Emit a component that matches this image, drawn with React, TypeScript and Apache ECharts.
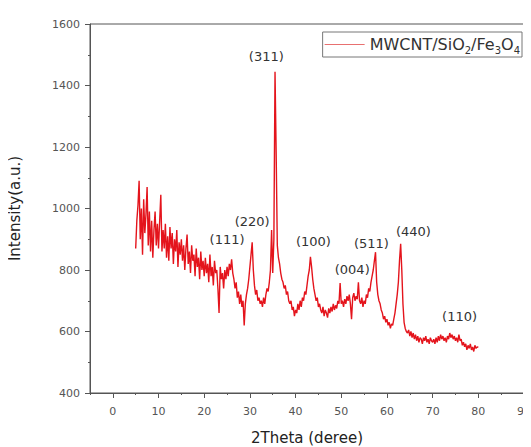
import React, { useEffect, useRef } from "react";
import * as echarts from "echarts";

// 2Theta sampling: start 5°, step 0.25°, to 80°
const thetaStart = 5;
const thetaStep = 0.25;

// Intensity (a.u.), one value per 0.25°
const intensity: number[] = [
  // 5.00 - 10.00
  870, 960, 1010, 1090, 900, 1000, 850, 1030, 920, 980, 1070, 880, 990, 860, 960, 840, 930, 990, 880, 950, 870,
  // 10.25 - 15.00
  960, 1045, 860, 930, 870, 950, 840, 910, 830, 940, 870, 920, 820, 900, 860, 930, 810, 890, 850, 900,
  // 15.25 - 20.00
  830, 880, 800, 870, 915, 820, 860, 790, 880, 830, 850, 780, 870, 810, 840, 770, 860, 800, 830, 780,
  // 20.25 - 25.00
  840, 790, 820, 760, 850, 780, 810, 750, 830, 790, 800, 740, 660, 810, 770, 790, 740, 800, 770, 810,
  // 25.25 - 30.00
  780, 820, 800, 835, 790, 770, 740, 760, 710, 730, 690, 720, 680, 700, 620, 690, 720, 740, 770, 810,
  // 30.25 - 35.00
  850, 890, 800, 750, 720, 735, 700, 710, 690, 700, 680, 710, 690, 720, 740, 730, 760, 800, 930, 790,
  // 35.25 - 40.00
  900, 1445, 1180, 880, 840, 820, 790, 770, 760, 740, 750, 720, 730, 700, 690, 700, 670, 680, 650, 670,
  // 40.25 - 45.00
  660, 690, 670, 700, 680, 710, 700, 730, 720, 750, 780, 800, 843, 810, 770, 740, 720, 700, 710, 680,
  // 45.25 - 50.00
  690, 670, 660, 680, 650, 670, 660, 645, 675, 660, 680, 665, 690, 670, 685, 675, 700, 690, 758, 690,
  // 50.25 - 55.00
  700, 680, 705, 690, 715, 700, 720, 690, 640, 710, 725, 700, 715, 705, 760, 700, 690, 710, 680, 700,
  // 55.25 - 60.00
  690, 720, 710, 740, 730, 760, 780, 800, 830, 858, 760, 720, 700, 690, 670, 660, 640, 650, 630, 640,
  // 60.25 - 65.00
  620, 630, 610, 625, 620, 640, 660, 690, 720, 760, 830, 885, 800, 690, 630, 610, 600, 595, 605, 585,
  // 65.25 - 70.00
  600, 580, 595, 575, 590, 570, 585, 565, 580, 575, 560, 580, 570, 585, 565, 575, 560, 580, 570, 565,
  // 70.25 - 75.00
  575, 560, 580, 565, 585, 570, 590, 575, 585, 570, 580, 565, 585, 575, 595, 580, 590, 575, 585, 570,
  // 75.25 - 80.00
  580, 565, 590, 570, 575, 555, 565, 550, 560, 540, 555, 545, 560, 540, 550, 535, 555, 545, 550, 548,
];

// Peak annotations (Miller indices) and where their labels sit (data coords)
const peakLabels = ["(311)", "(220)", "(111)", "(100)", "(004)", "(511)", "(440)", "(110)"];
const peakLabelX = [33.6, 30.5, 25.0, 43.9, 52.4, 56.6, 65.8, 75.9];
const peakLabelY = [1495, 959, 898, 894, 803, 885, 924, 650];

const xMajorTicks = [0, 10, 20, 30, 40, 50, 60, 70, 80, 90];

const seriesName = "MWCNT/SiO2/Fe3O4";

export default function App() {
  const ref = useRef<HTMLDivElement>(null);

  useEffect(() => {
    if (!ref.current) return;
    const chart = echarts.init(ref.current, undefined, { renderer: "svg" });
    const data = intensity.map((v, i) => [thetaStart + i * thetaStep, v]);
    const font = "DejaVu Sans";
    const axisColor = "#555";

    chart.setOption({
      animation: false,
      backgroundColor: "#fff",
      grid: {
        left: 90,
        right: 7,
        top: 24,
        bottom: 54,
        containLabel: false,
        outerBoundsMode: "none",
        show: true,
        borderColor: axisColor,
        borderWidth: 1,
        backgroundColor: "transparent",
      },
      legend: {
        right: 9,
        top: 32,
        orient: "horizontal",
        data: [seriesName],
        itemWidth: 40,
        itemHeight: 14,
        itemGap: 4,
        padding: [2, 2, 2, 2],
        borderColor: "#777",
        borderWidth: 1,
        icon: "path://M0,7L40,7L40,8L0,8Z",
        itemStyle: { color: "#e87070" },
        formatter: () => "{a|MWCNT/SiO}{s|2}{a|/Fe}{s|3}{a|O}{s|4}",
        textStyle: {
          fontFamily: font,
          rich: {
            a: { fontSize: 16, fontFamily: font, color: "#333", lineHeight: 19 },
            s: { fontSize: 10, fontFamily: font, color: "#333", lineHeight: 10, padding: [11, 0, 0, 0] },
          },
        },
      },
      xAxis: [
        {
          type: "value",
          min: -5,
          max: 90,
          position: "bottom",
          name: "2Theta (deree)",
          nameLocation: "middle",
          nameGap: 37,
          nameTextStyle: { fontFamily: font, fontSize: 15, color: "#222" },
          axisLine: { show: true, onZero: false, lineStyle: { color: axisColor, width: 1 } },
          axisTick: { show: true, length: 5, customValues: xMajorTicks, lineStyle: { color: axisColor } },
          axisLabel: {
            customValues: xMajorTicks,
            fontFamily: font,
            fontSize: 11,
            color: "#555",
            margin: 13,
          },
          splitLine: { show: false },
        },
        {
          type: "value",
          min: -5,
          max: 90,
          interval: 5,
          position: "bottom",
          axisLine: { show: false, onZero: false },
          axisTick: { show: true, length: 2, lineStyle: { color: axisColor } },
          axisLabel: { show: false },
          splitLine: { show: false },
        },
      ],
      yAxis: {
        type: "value",
        min: 400,
        max: 1600,
        interval: 200,
        name: "Intensity(a.u.)",
        nameLocation: "middle",
        nameGap: 68,
        nameTextStyle: { fontFamily: font, fontSize: 15, color: "#222" },
        axisLine: { show: true, onZero: false, lineStyle: { color: axisColor, width: 1 } },
        axisTick: { show: true, length: 5, lineStyle: { color: axisColor } },
        minorTick: { show: true, splitNumber: 2, length: 2, lineStyle: { color: axisColor } },
        axisLabel: {
          fontFamily: font,
          fontSize: 11,
          color: "#555",
          margin: 10,
          formatter: (v: number) => String(v),
        },
        splitLine: { show: false },
      },
      series: [
        {
          name: seriesName,
          type: "line",
          data,
          showSymbol: false,
          symbol: "none",
          lineStyle: { color: "#e4141c", width: 1.4 },
          itemStyle: { color: "#e4141c" },
          markPoint: {
            symbol: "circle",
            symbolSize: 0,
            label: {
              show: true,
              position: "inside",
              fontFamily: font,
              fontSize: 13,
              color: "#333",
              formatter: (p: any) => p.name,
            },
            data: peakLabels.map((name, i) => ({ name, coord: [peakLabelX[i], peakLabelY[i]] })),
          },
        },
      ],
    });

    return () => chart.dispose();
  }, []);

  return <div ref={ref} style={{ width: 531, height: 447, marginLeft: -8, marginTop: -8 }} />;
}
